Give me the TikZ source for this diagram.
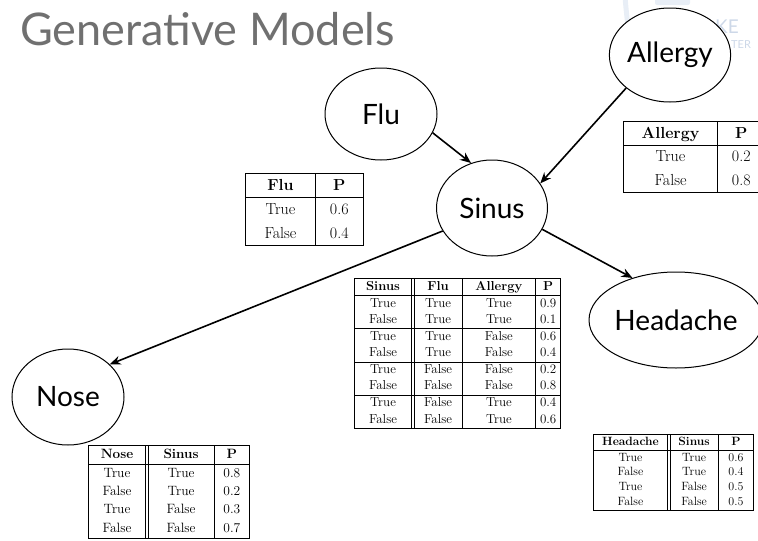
\documentclass[tikz,border=0pt]{standalone}
\usepackage{fontspec}
\usepackage{array}
\newfontfamily\labelfont{Lato}
\usetikzlibrary{arrows.meta,shapes.geometric}

\definecolor{titlegray}{RGB}{112,112,112}
\definecolor{markband}{RGB}{232,238,246}
\definecolor{markletter}{RGB}{205,216,232}

\newcommand{\tabfont}[2]{\fontsize{#1}{#2}\selectfont}
\newcolumntype{C}[1]{w{c}{#1}}

\tikzset{
  bn/.style={ellipse, draw, fill=white, line width=1pt, inner sep=0pt,
             font=\labelfont\fontsize{28}{30}\selectfont},
  edge/.style={line width=1.6pt, -{Stealth[length=11pt,width=9pt]}},
  cpt/.style={inner sep=0pt, fill=white, anchor=north west}
}

\begin{document}
\begin{tikzpicture}[x=1pt,y=-1pt]
\useasboundingbox (0,0) rectangle (758,541);
\clip (0,0) rectangle (758,541);

% faint watermark in the corner
\draw[markband, line width=5pt] (625,-3) .. controls (627,20) and (629,40) .. (636,62);
\fill[markband, rounded corners=2pt] (655,-4) rectangle (690,5);
\node[text=markletter, font=\labelfont\fontsize{19}{19}\selectfont, anchor=base west, inner sep=0pt] (mark1) at (715,33) {KE};
\node[text=markletter, font=\labelfont\fontsize{11}{11}\selectfont, anchor=base west, inner sep=0pt] (mark2) at (731,48) {TER};

% title
\node[text=titlegray, font=\labelfont\fontsize{45}{48}\selectfont, anchor=base west, inner sep=0pt] (title) at (20,45) {Generative Models};

% network
\node[bn, minimum width=112pt, minimum height=92pt] (flu) at (381,114) {Flu};
\node[bn, minimum width=106pt, minimum height=94pt] (allergy) at (670,55) {Allergy};
\node[bn, minimum width=111pt, minimum height=96pt] (sinus) at (492,208) {Sinus};
\node[bn, minimum width=160pt, minimum height=96pt] (headache) at (676,320) {Headache};
\node[bn, minimum width=112pt, minimum height=96pt] (nose) at (68,397) {Nose};

\draw[edge] (flu.-20) -- (sinus.115);
\draw[edge] (allergy.217) -- (sinus.27);
\draw[edge] (sinus.-23) -- (headache.136);
\draw[edge] (sinus.205) -- (nose.38);

% conditional probability tables
\setlength{\tabcolsep}{0pt}
\setlength{\arrayrulewidth}{0.8pt}

\node[cpt] (tflu) at (245,173) {\tabfont{16}{19.2}\renewcommand{\arraystretch}{1.22}%
\begin{tabular}{|C{69pt}|C{47pt}|}\hline
\textbf{Flu} & \textbf{P}\\\hline
True & 0.6\\
False & 0.4\\\hline
\end{tabular}};

\node[cpt] (tallergy) at (623,121) {\tabfont{16}{19.2}\renewcommand{\arraystretch}{1.2}%
\begin{tabular}{|C{93pt}|C{47pt}|}\hline
\textbf{Allergy} & \textbf{P}\\\hline
True & 0.2\\
False & 0.8\\\hline
\end{tabular}};

\node[cpt] (tsinus) at (354,278) {\tabfont{13}{16.2}\renewcommand{\arraystretch}{1}%
\begin{tabular}{|C{56pt}||C{47pt}|C{73pt}|C{24pt}|}\hline
\textbf{Sinus} & \textbf{Flu} & \textbf{Allergy} & \textbf{P}\\\hline
True & True & True & 0.9\\
False & True & True & 0.1\\\hline
True & True & False & 0.6\\
False & True & False & 0.4\\\hline
True & False & False & 0.2\\
False & False & False & 0.8\\\hline
True & False & True & 0.4\\
False & False & True & 0.6\\\hline
\end{tabular}};

\node[cpt] (tnose) at (88,445) {\tabfont{13.5}{16.2}\renewcommand{\arraystretch}{1.12}%
\begin{tabular}{|C{56pt}||C{65pt}|C{35pt}|}\hline
\textbf{Nose} & \textbf{Sinus} & \textbf{P}\\\hline
True & True & 0.8\\
False & True & 0.2\\
True & False & 0.3\\
False & False & 0.7\\\hline
\end{tabular}};

\node[cpt] (theadache) at (593,434) {\tabfont{12}{14.4}\renewcommand{\arraystretch}{1.03}%
\begin{tabular}{|C{73pt}||C{47pt}|C{35pt}|}\hline
\textbf{Headache} & \textbf{Sinus} & \textbf{P}\\\hline
True & True & 0.6\\
False & True & 0.4\\
True & False & 0.5\\
False & False & 0.5\\\hline
\end{tabular}};

\end{tikzpicture}
\end{document}
